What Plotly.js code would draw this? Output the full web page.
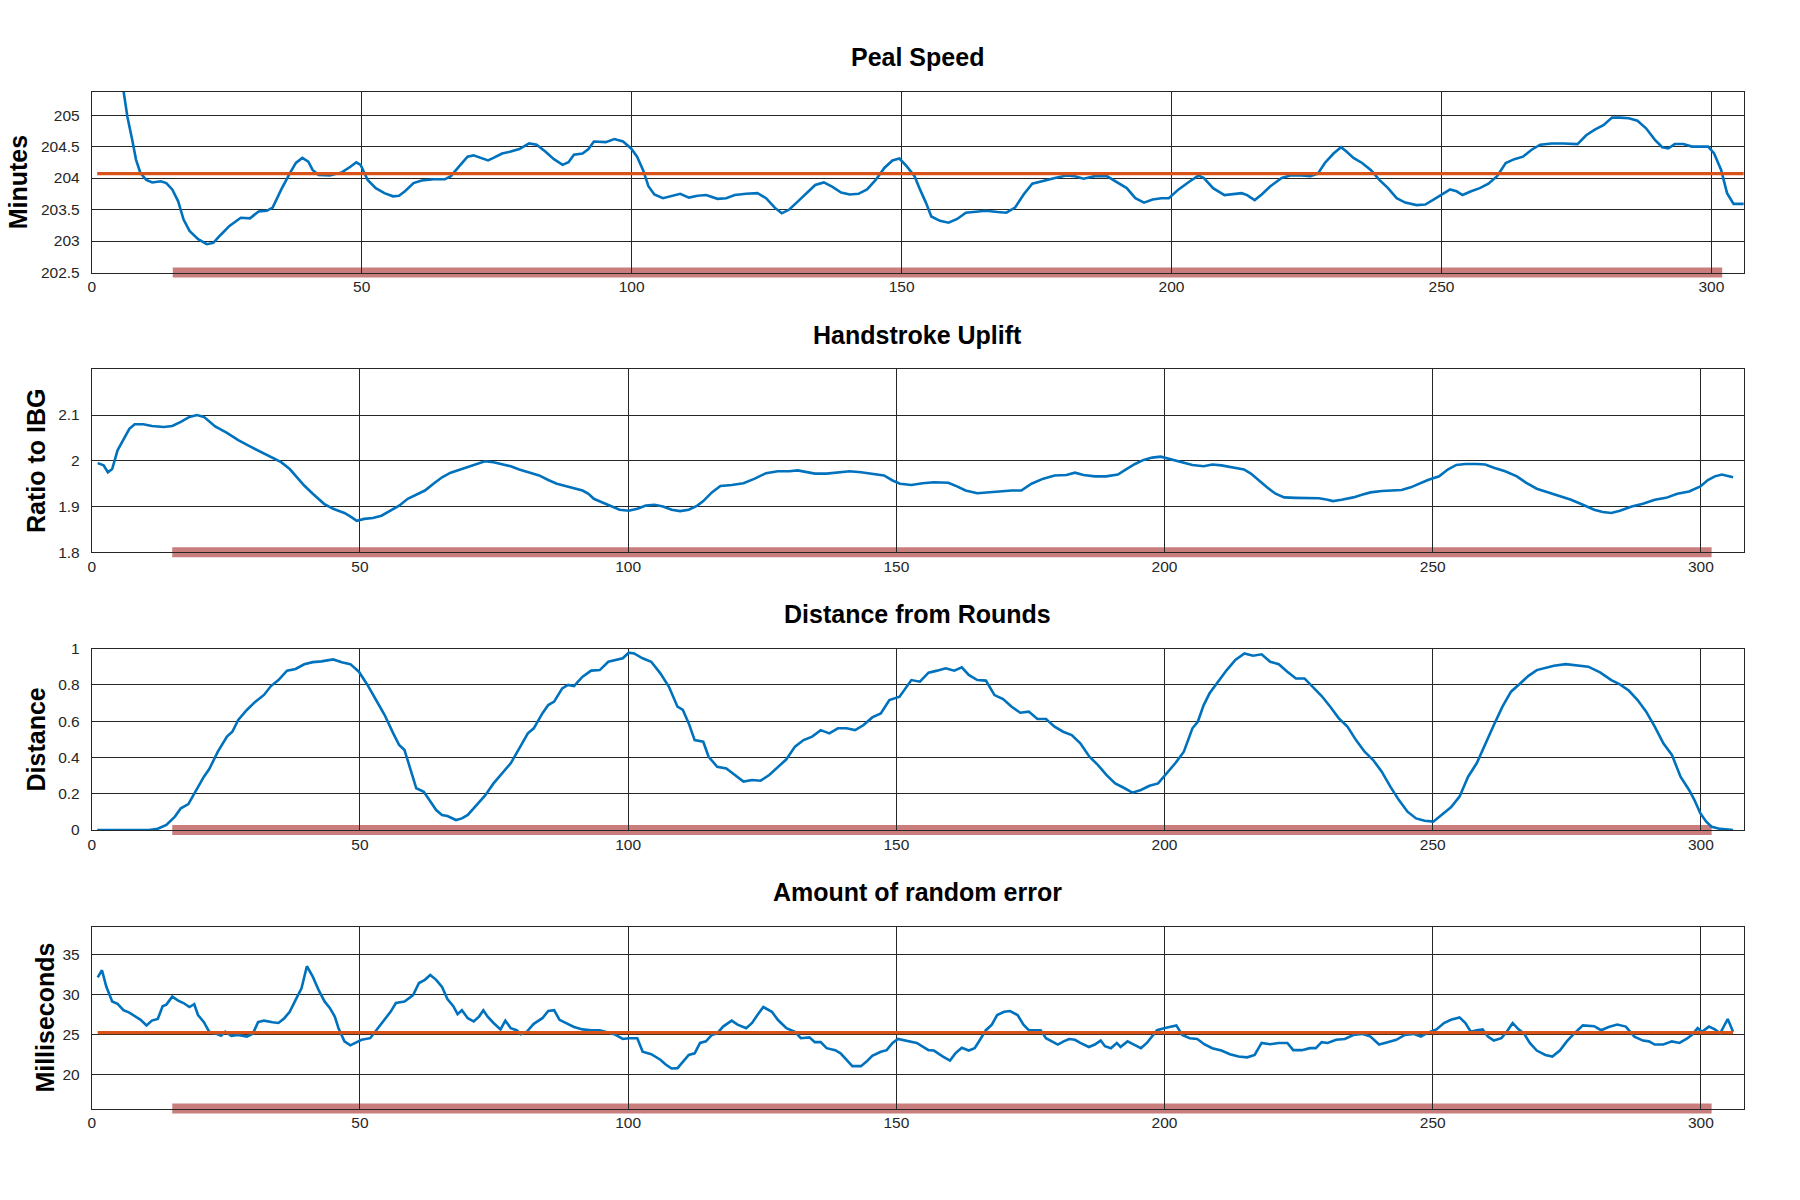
<!DOCTYPE html>
<html>
<head>
<meta charset="utf-8">
<script src="https://cdn.plot.ly/plotly-3.0.1.min.js"></script>
<style>html,body{margin:0;padding:0;background:#fff}#chart{width:1800px;height:1200px}</style>
</head>
<body>
<div id="chart"></div>
<script>
// ---------------- data ----------------
const panelTitles = ['Peal Speed', 'Handstroke Uplift', 'Distance from Rounds', 'Amount of random error'];
const yTitles = ['Minutes', 'Ratio to IBG', 'Distance', 'Milliseconds'];

const xTickVals = [0, 50, 100, 150, 200, 250, 300];
const xTickText = ['0', '50', '100', '150', '200', '250', '300'];

const speedTickVals = [202.5, 203, 203.5, 204, 204.5, 205];
const speedTickText = ['202.5', '203', '203.5', '204', '204.5', '205'];
const upliftTickVals = [1.8, 1.9, 2, 2.1];
const upliftTickText = ['1.8', '1.9', '2', '2.1'];
const distTickVals = [0, 0.2, 0.4, 0.6, 0.8, 1];
const distTickText = ['0', '0.2', '0.4', '0.6', '0.8', '1'];
const errTickVals = [20, 25, 30, 35];
const errTickText = ['20', '25', '30', '35'];

// analysed window (pink bar) and averages (orange lines)
const windowStart = 15;
const windowEnd = 302;
const speedMean = 204.07;
const errorMean = 25.2;

// Peal speed (minutes) [change, value]
const speedData = [[1,207.7],[2,207.2],[3,206.7],[4,206.2],[5,205.75],[5.9,205.37],[6.6,204.97],[7.5,204.6],[8.2,204.29],[9,204.08],[10.1,203.97],[11.2,203.93],[12.8,203.95],[13.8,203.92],[14.9,203.82],[16,203.63],[17,203.34],[18.1,203.16],[19.7,203.03],[21.3,202.95],[22.5,202.97],[23.9,203.1],[25.5,203.24],[27.6,203.37],[29.3,203.36],[30.9,203.47],[32.4,203.48],[33.5,203.53],[35.1,203.82],[36.7,204.08],[37.8,204.24],[39,204.32],[40.1,204.26],[40.9,204.13],[42,204.05],[44.1,204.04],[46.3,204.09],[47.9,204.18],[49,204.25],[49.8,204.21],[51.1,203.97],[52.6,203.84],[54.2,203.76],[55.8,203.71],[56.9,203.72],[58,203.79],[59.6,203.92],[61.1,203.96],[63.3,203.98],[65.4,203.98],[66.5,204.03],[68,204.18],[69.6,204.34],[70.7,204.36],[71.8,204.33],[73.4,204.28],[74.4,204.32],[76,204.39],[77.6,204.42],[79.2,204.46],[81,204.55],[82.4,204.53],[84,204.42],[85.6,204.3],[87.2,204.21],[88.3,204.25],[89.3,204.37],[90.9,204.39],[92,204.46],[93,204.58],[95.2,204.57],[96.8,204.62],[98.4,204.58],[99.9,204.47],[101,204.34],[102.1,204.13],[103.1,203.87],[104.2,203.74],[105.8,203.68],[107.4,203.72],[109,203.75],[110.6,203.69],[112.2,203.72],[113.8,203.73],[115.9,203.67],[117.5,203.68],[119.1,203.73],[121.2,203.75],[123.3,203.76],[124.9,203.68],[126.5,203.53],[127.8,203.44],[129.2,203.5],[130.8,203.63],[132.4,203.76],[134,203.89],[135.6,203.93],[137.2,203.86],[138.8,203.77],[140.4,203.74],[142,203.75],[143.6,203.82],[145.2,203.97],[146.8,204.16],[148.3,204.28],[149.6,204.31],[151,204.18],[152.4,204.03],[153.4,203.82],[154.5,203.61],[155.5,203.39],[157.1,203.32],[158.7,203.29],[160.3,203.35],[161.9,203.45],[163.5,203.46],[165.6,203.48],[167.8,203.46],[169.4,203.45],[171,203.53],[172.6,203.74],[174.2,203.91],[176.3,203.96],[178.4,204],[180.5,204.04],[182.1,204.03],[183.7,203.99],[185.8,204.03],[188,204.03],[189.6,203.95],[191.7,203.84],[193.3,203.68],[194.9,203.61],[196.5,203.66],[198.1,203.68],[199.5,203.68],[201.3,203.82],[203.4,203.95],[205,204.04],[206,204],[207.7,203.84],[209.8,203.73],[211.4,203.74],[213,203.76],[214,203.73],[215.4,203.65],[216.7,203.74],[218.3,203.87],[220.4,204],[222,204.04],[224.1,204.04],[225.7,204.03],[227.1,204.07],[228.4,204.24],[230,204.39],[231.4,204.49],[232.4,204.42],[233.7,204.32],[235.3,204.24],[236.9,204.13],[238.5,203.97],[240.1,203.84],[241.7,203.68],[243.3,203.61],[245.4,203.57],[247,203.58],[248.6,203.66],[250.2,203.74],[251.6,203.82],[252.8,203.79],[253.9,203.73],[255.5,203.79],[257.1,203.84],[258.7,203.91],[260.3,204.03],[261.9,204.24],[263.5,204.3],[265.1,204.34],[266.7,204.45],[268.3,204.53],[270.4,204.55],[272.6,204.55],[274.1,204.54],[275.2,204.54],[276.8,204.68],[278.4,204.77],[280,204.84],[281.6,204.96],[283.1,204.96],[284.7,204.95],[286.3,204.91],[287.9,204.79],[289.5,204.61],[290.9,204.49],[292,204.47],[293.2,204.54],[294.8,204.54],[296.4,204.5],[298,204.5],[299.4,204.5],[300.5,204.39],[301.8,204.13],[302.9,203.76],[304.1,203.59],[306,203.59]];

// Handstroke uplift (ratio to inter-bell gap)
const upliftData = [[1.1,1.995],[2.2,1.99],[3,1.975],[3.8,1.982],[4.8,2.023],[5.9,2.048],[7,2.07],[8,2.08],[9.6,2.08],[11.2,2.076],[13.4,2.074],[15,2.076],[16.6,2.085],[18.2,2.096],[19.6,2.1],[20.9,2.096],[21.9,2.085],[23,2.075],[25.2,2.061],[27.3,2.045],[29.4,2.032],[31.6,2.019],[33.7,2.008],[35.3,1.997],[36.9,1.982],[38.5,1.961],[39.6,1.946],[41.2,1.928],[43.3,1.906],[45,1.895],[47.1,1.886],[48.4,1.877],[49.4,1.869],[50.8,1.873],[52.4,1.875],[54,1.88],[55.6,1.89],[57.3,1.902],[58.9,1.917],[60.5,1.926],[62.1,1.935],[63.7,1.95],[65.3,1.964],[66.9,1.974],[68.5,1.98],[70.1,1.986],[71.7,1.992],[73.3,1.999],[74.9,1.997],[76.5,1.993],[78.1,1.988],[79.7,1.981],[81.3,1.975],[83.4,1.968],[85.1,1.958],[86.7,1.95],[88.3,1.945],[89.9,1.94],[91.5,1.935],[92.6,1.928],[93.6,1.917],[95.2,1.909],[96.9,1.9],[98.4,1.893],[100.1,1.891],[101.7,1.895],[103.3,1.902],[104.9,1.904],[106.5,1.9],[108.1,1.893],[109.7,1.89],[111.3,1.893],[112.9,1.902],[114,1.912],[115.6,1.931],[117.2,1.945],[119.3,1.947],[121.5,1.951],[123.6,1.961],[125.7,1.973],[127.9,1.977],[130,1.977],[131.6,1.979],[133.2,1.975],[134.8,1.972],[137,1.972],[139.1,1.975],[141.3,1.977],[143.4,1.975],[145.5,1.972],[147.7,1.968],[149.3,1.957],[150.7,1.95],[152.8,1.947],[154.9,1.951],[157,1.953],[159.7,1.952],[161.3,1.944],[162.9,1.935],[165.1,1.929],[167.2,1.931],[169.4,1.933],[171.5,1.935],[173.3,1.935],[175.2,1.95],[177.4,1.961],[179.5,1.968],[181.7,1.969],[183.3,1.974],[184.9,1.969],[187,1.966],[189.1,1.966],[191.3,1.97],[192.9,1.982],[194.5,1.993],[196.1,2.002],[197.7,2.007],[199.3,2.009],[200.9,2.004],[203,1.999],[205.2,1.991],[207.3,1.988],[208.9,1.992],[210.6,1.99],[212.7,1.985],[214.8,1.981],[216.1,1.972],[217.5,1.957],[219.1,1.942],[220.7,1.928],[222.3,1.92],[224.5,1.919],[226.6,1.919],[228.8,1.918],[230.4,1.915],[231.4,1.912],[233,1.915],[235.2,1.92],[236.8,1.926],[238.4,1.931],[240.5,1.934],[242.6,1.935],[244.2,1.936],[245.9,1.942],[247.5,1.95],[249.1,1.958],[251.2,1.966],[252.8,1.981],[254.4,1.991],[256.1,1.993],[258.2,1.993],[259.8,1.992],[261.4,1.985],[263.5,1.977],[265.7,1.966],[267.3,1.953],[269.4,1.939],[271.5,1.931],[273.7,1.923],[275.8,1.915],[278,1.904],[280.1,1.893],[281.7,1.888],[283.3,1.886],[284.9,1.891],[287.1,1.9],[289.2,1.906],[291.4,1.915],[293.5,1.919],[295.6,1.928],[297.8,1.933],[299.9,1.944],[301.3,1.958],[302.6,1.966],[303.9,1.97],[305,1.966],[306,1.964]];

// Distance from rounds
const distanceData = [[1,0],[5,0],[10.7,0],[12.3,0.007],[13.9,0.028],[15.5,0.074],[16.6,0.12],[18,0.143],[19.3,0.211],[20.9,0.294],[21.9,0.336],[23.5,0.432],[25.2,0.515],[26.2,0.542],[27.3,0.607],[28.9,0.662],[30.5,0.708],[32.1,0.745],[33.4,0.794],[34.8,0.827],[36.4,0.879],[38,0.888],[39.6,0.914],[41.2,0.926],[42.8,0.93],[45,0.941],[46.6,0.925],[48.2,0.915],[49.8,0.873],[51.4,0.8],[53,0.717],[54.6,0.634],[56.2,0.533],[57.3,0.469],[58.3,0.441],[59.4,0.331],[60.5,0.23],[61.9,0.211],[63.2,0.156],[64.2,0.11],[65.3,0.083],[66.3,0.077],[67.9,0.055],[69,0.064],[70.1,0.083],[71.7,0.134],[73.3,0.189],[74.9,0.257],[76.5,0.313],[78.1,0.368],[79.7,0.45],[81.3,0.533],[82.4,0.561],[84,0.643],[85.1,0.689],[86.2,0.708],[87.7,0.781],[88.8,0.8],[89.9,0.794],[91.5,0.846],[93.1,0.879],[94.7,0.882],[96.3,0.928],[97.9,0.938],[99,0.947],[100.1,0.978],[101.1,0.974],[102.7,0.947],[104.3,0.928],[106,0.864],[107.6,0.79],[109.2,0.68],[110.2,0.662],[111.3,0.588],[112.4,0.496],[114,0.487],[115,0.404],[116.6,0.349],[118.3,0.34],[119.9,0.303],[121.5,0.267],[123.1,0.276],[124.7,0.272],[126.3,0.303],[127.9,0.349],[129.5,0.39],[131.1,0.46],[132.7,0.496],[134.3,0.515],[135.9,0.551],[137.5,0.533],[139.1,0.561],[140.7,0.561],[142.3,0.551],[143.9,0.579],[145.5,0.621],[147.1,0.643],[148.7,0.717],[150.6,0.735],[151.7,0.781],[152.8,0.827],[154.4,0.818],[156,0.868],[157.6,0.879],[159.2,0.892],[160.8,0.879],[162.2,0.897],[163.5,0.855],[165.1,0.827],[166.7,0.824],[168.3,0.744],[169.9,0.722],[171.5,0.68],[173.1,0.647],[174.7,0.653],[176.3,0.612],[177.9,0.612],[179.5,0.57],[181.1,0.542],[182.7,0.524],[184.3,0.478],[186,0.404],[187.6,0.358],[189.2,0.303],[190.8,0.257],[192.4,0.233],[194,0.206],[195.6,0.221],[197.2,0.244],[198.8,0.257],[200.4,0.313],[202,0.368],[203.6,0.432],[205.2,0.561],[206.2,0.597],[207.3,0.689],[208.4,0.754],[210,0.818],[211.6,0.882],[213.2,0.938],[214.9,0.974],[216.5,0.961],[218.1,0.969],[219.7,0.928],[221.3,0.914],[222.9,0.873],[224.5,0.836],[226.1,0.836],[227.7,0.79],[229.3,0.739],[230.9,0.68],[232.5,0.616],[234.1,0.57],[235.7,0.496],[237.3,0.432],[238.9,0.386],[240.5,0.322],[242.1,0.239],[243.7,0.165],[245.3,0.101],[246.9,0.064],[248.5,0.051],[250.1,0.046],[251.7,0.083],[253.4,0.125],[255,0.184],[256.6,0.294],[258.2,0.368],[259.8,0.478],[261.4,0.579],[263,0.68],[264.6,0.763],[266.2,0.805],[267.8,0.849],[269.4,0.882],[271,0.895],[272.6,0.906],[274.8,0.915],[276.9,0.91],[279,0.901],[281.2,0.869],[283.3,0.827],[284.9,0.803],[286.6,0.768],[288.2,0.717],[289.8,0.653],[291.4,0.57],[293,0.478],[294.6,0.414],[296.2,0.294],[297.8,0.221],[298.8,0.165],[299.9,0.092],[301,0.046],[302,0.018],[303.6,0.006],[306,0]];

// Amount of random error (ms)
const errorData = [[1.1,32.1],[1.9,33.0],[2.7,30.96],[3.8,29.1],[4.8,28.8],[5.9,28.0],[7,27.7],[8,27.3],[9.1,26.8],[10.2,26.1],[11.2,26.7],[12.3,26.9],[13.2,28.5],[13.9,28.7],[15,29.7],[16.1,29.2],[17.1,28.9],[18.2,28.4],[19.1,28.75],[19.8,27.4],[20.9,26.5],[21.9,25.3],[23,25.1],[24.1,24.8],[24.9,25.3],[26,24.8],[27.3,24.9],[28.9,24.7],[30,25.04],[31,26.5],[32.1,26.7],[33.7,26.5],[34.8,26.4],[35.9,27],[36.9,27.8],[38,29.3],[39.1,30.75],[40.1,33.5],[41.2,32.2],[42.3,30.5],[43.4,29.1],[44.4,28.25],[45.3,27.2],[46,25.75],[47.1,24.1],[48.2,23.6],[49.2,23.9],[50.3,24.3],[51.9,24.5],[53,25.5],[54.6,26.8],[55.7,27.8],[56.7,28.9],[58.3,29.1],[59.9,29.9],[61,31.4],[62.1,31.8],[63.1,32.4],[64.2,31.8],[65.3,30.9],[66.3,29.4],[67.4,28.5],[68.2,27.5],[69,28],[70.1,27],[71.2,26.6],[72.2,27.2],[73,28],[73.8,27.2],[74.9,26.4],[76.2,25.6],[77.1,26.7],[78.1,25.75],[79.2,25.5],[80,25],[81.1,25.3],[82.4,26.3],[84,27],[85.1,27.9],[86.2,28],[87.2,26.8],[88.8,26.3],[89.9,25.9],[91.5,25.6],[93.1,25.5],[94.7,25.5],[95.8,25.3],[97.4,25],[99,24.4],[100.1,24.5],[101.7,24.5],[102.7,22.8],[104.3,22.5],[106,21.8],[107,21.2],[108.1,20.7],[109.2,20.75],[110.2,21.6],[111.3,22.4],[112.4,22.6],[113.4,23.9],[114.5,24.1],[115.6,24.9],[116.6,25.1],[117.7,25.95],[119.3,26.7],[120.4,26.2],[122,25.75],[123.1,26.4],[124.1,27.4],[125.2,28.4],[126.8,27.8],[127.9,26.8],[129.5,25.75],[131.1,25.3],[132.2,24.5],[133.8,24.6],[134.8,24],[135.9,24],[137,23.25],[138.6,23.0],[139.6,22.6],[140.7,21.8],[141.8,21],[143.4,21],[144.5,21.6],[145.5,22.3],[147.1,22.8],[148.2,23.0],[149.3,23.9],[150.3,24.4],[152.3,24.1],[153.8,23.9],[156,23.0],[157,22.95],[158.7,22.2],[160,21.7],[161,22.6],[162.2,23.3],[163.5,22.95],[164.6,23.25],[165.6,24.3],[166.7,25.5],[167.8,26.2],[168.8,27.4],[170.1,27.8],[171.2,27.9],[172.6,27.4],[173.7,26.2],[174.7,25.5],[176.9,25.5],[177.9,24.5],[179,24.1],[180.1,23.7],[181.2,24.1],[182.2,24.4],[183.3,24.3],[184.3,23.9],[185.9,23.4],[187,23.7],[188.1,24.2],[188.9,23.5],[190,23.25],[191.1,23.9],[191.8,23.4],[193.1,24.1],[194.3,23.7],[195.6,23.25],[196.7,23.9],[197.7,24.8],[198.6,25.5],[199.9,25.75],[201.2,25.95],[202.2,26.1],[203.3,24.9],[204.7,24.5],[206.1,24.4],[207.4,23.75],[208.9,23.25],[210.6,22.95],[212.2,22.5],[213.8,22.2],[215.4,22.1],[216.8,22.4],[218.1,23.9],[219.7,23.75],[221.3,23.9],[222.9,23.9],[224,23.0],[225.6,23.0],[227.1,23.25],[228.2,23.25],[229.3,24],[230.4,23.9],[232,24.3],[233.6,24.4],[235.2,24.9],[236.8,25.04],[238.4,24.7],[240,23.7],[241.6,24],[243.2,24.3],[244.8,24.9],[246.4,25.04],[247.8,24.7],[249.1,25.2],[250.7,25.6],[252.1,26.4],[253.4,26.8],[255,27.1],[256.1,26.4],[257.1,25.3],[258.2,25.5],[259.3,25.6],[260.3,24.7],[261.4,24.2],[262.8,24.5],[263.8,25.3],[264.9,26.4],[266,25.6],[267,25.1],[268.1,23.9],[269.4,22.95],[271,22.4],[272.3,22.2],[273.7,22.95],[275,24.1],[276.4,25.1],[278,26.1],[280.1,26.0],[281.4,25.5],[282.8,25.9],[284.4,26.2],[286,25.95],[287.6,24.7],[289.2,24.2],[290.3,24.1],[291.4,23.7],[293,23.7],[294.6,24.1],[296,23.9],[297.3,24.4],[298.3,24.9],[299.4,25.75],[300.2,25.3],[301.5,25.95],[302.6,25.6],[303.6,25.1],[305,26.9],[306,25.3]];

// ---------------- styling ----------------
const BLUE = '#0072BD';
const ORANGE = '#D95319';
const PINK = '#C97D7D';
const AXIS = '#262626';
const FONT = 'Liberation Sans, Arial, Helvetica, sans-serif';

const W = 1800, H = 1200;
const plotLeft = 91.8, plotRight = 1743.8;
// panel [top, bottom] in px
const panelPx = [[91.8, 272.5], [369.3, 552.3], [648.7, 830.0], [926.7, 1108.5]];
const yDomain = p => [1 - p[1] / H, 1 - p[0] / H];
const xDomain = [plotLeft / W, plotRight / W];

const series = [speedData, upliftData, distanceData, errorData];
const xRanges = [[0, 306], [0, 308], [0, 308], [0, 308]];
const yRanges = [[202.5, 205.37], [1.8, 2.2], [0, 1], [15.7, 38.45]];
const yTickVals = [speedTickVals, upliftTickVals, distTickVals, errTickVals];
const yTickText = [speedTickText, upliftTickText, distTickText, errTickText];
const yStandoff = [6, 5, 5, 0];
const means = [speedMean, null, null, errorMean];

const traces = [];
const layout = {
  width: W, height: H,
  margin: {l: 0, r: 0, t: 0, b: 0},
  paper_bgcolor: '#fff', plot_bgcolor: '#fff',
  showlegend: false,
  font: {family: FONT, color: AXIS},
  annotations: [], shapes: []
};

for (let i = 0; i < 4; i++) {
  const n = i === 0 ? '' : String(i + 1);
  const xa = 'x' + n, ya = 'y' + n;
  const d = series[i];
  const xs = d.map(p => p[0]);
  const ys = d.map(p => p[1]);

  traces.push({
    x: xs, y: ys, xaxis: xa, yaxis: ya, type: 'scatter', mode: 'lines',
    line: {color: BLUE, width: 2.6}, hoverinfo: 'x+y'
  });
  if (means[i] !== null) {
    traces.push({
      x: [xs[0], xs[xs.length - 1]], y: [means[i], means[i]], xaxis: xa, yaxis: ya,
      type: 'scatter', mode: 'lines', line: {color: ORANGE, width: 3.4}, hoverinfo: 'y'
    });
  }

  const common = {
    showline: true, mirror: true, linecolor: AXIS, linewidth: 1,
    showgrid: true, gridcolor: AXIS, gridwidth: 1, zeroline: false,
    ticks: '', tickfont: {family: FONT, size: 15.5, color: AXIS},
    fixedrange: true
  };

  layout['xaxis' + n] = Object.assign({}, common, {
    domain: xDomain, anchor: ya, range: xRanges[i],
    tickmode: 'array', tickvals: xTickVals, ticktext: xTickText,
    ticklabelstandoff: 1.5
  });
  layout['yaxis' + n] = Object.assign({}, common, {
    domain: yDomain(panelPx[i]), anchor: xa, range: yRanges[i],
    tickmode: 'array', tickvals: yTickVals[i], ticktext: yTickText[i],
    ticklabelstandoff: 8,
    title: {text: yTitles[i], font: {family: FONT, size: 25, weight: 700, color: '#000'}, standoff: yStandoff[i]}
  });

  layout.annotations.push({
    xref: xa + ' domain', yref: ya + ' domain', x: 0.5, y: 1, yshift: 34.5,
    xanchor: 'center', yanchor: 'middle', showarrow: false,
    text: panelTitles[i], font: {family: FONT, size: 25, weight: 700, color: '#000'}
  });

  layout.shapes.push({
    type: 'line', layer: 'below', xref: xa, yref: ya + ' domain',
    x0: windowStart, x1: windowEnd, y0: 0, y1: 0,
    line: {color: PINK, width: 10}
  });
}

Plotly.newPlot('chart', traces, layout, {displayModeBar: false, staticPlot: true});
</script>
</body>
</html>
